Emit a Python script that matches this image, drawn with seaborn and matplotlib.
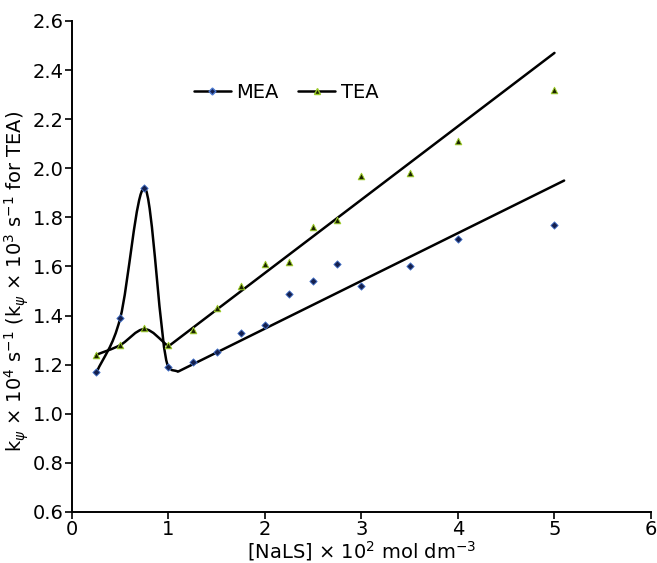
import matplotlib
matplotlib.use('Agg')
import matplotlib.pyplot as plt
import seaborn as sns
import pandas as pd
from matplotlib.path import Path
from matplotlib.patches import PathPatch
from matplotlib.lines import Line2D

sns.set_style('ticks')
plt.rcParams['font.family'] = ['DejaVu Sans']
plt.rcParams['mathtext.fontset'] = 'dejavusans'
plt.rcParams['text.color'] = 'black'
plt.rcParams['axes.labelcolor'] = 'black'

# measured points
nals = [0.25, 0.5, 0.75, 1.0, 1.25, 1.5, 1.75, 2.0, 2.25, 2.5, 2.75, 3.0, 3.5, 4.0, 5.0]
mea = [1.17, 1.39, 1.92, 1.19, 1.21, 1.25, 1.33, 1.36, 1.49, 1.54, 1.61, 1.52, 1.60, 1.71, 1.77]
tea = [1.24, 1.28, 1.35, 1.28, 1.34, 1.43, 1.52, 1.61, 1.62, 1.76, 1.79, 1.97, 1.98, 2.11, 2.32]

# smoothed part of the trend (knots) + straight part
mea_curve_x = [0.25, 0.5, 0.75, 1.0, 1.1]
mea_curve_y = [1.165, 1.39, 1.92, 1.19, 1.172]
mea_line_x = [1.1, 5.1]
mea_line_y = [1.172, 1.95]
tea_curve_x = [0.25, 0.5, 0.75, 1.0]
tea_curve_y = [1.24, 1.28, 1.345, 1.275]
tea_line_x = [1.0, 5.0]
tea_line_y = [1.275, 2.47]


def smooth_path(xs, ys):
    # cubic hermite through the knots (limited slopes), as bezier segments
    n = len(xs)
    h = [xs[i + 1] - xs[i] for i in range(n - 1)]
    d = [(ys[i + 1] - ys[i]) / h[i] for i in range(n - 1)]
    m = [d[0]]
    for i in range(1, n - 1):
        if d[i - 1] * d[i] <= 0:
            m.append(0.0)
        else:
            c = (ys[i + 1] - ys[i - 1]) / (xs[i + 1] - xs[i - 1])
            lim = 3 * min(abs(d[i - 1]), abs(d[i]))
            m.append(max(-lim, min(lim, c)))
    m.append(d[-1])
    verts = [(xs[0], ys[0])]
    codes = [Path.MOVETO]
    for i in range(n - 1):
        verts += [(xs[i] + h[i] / 3, ys[i] + m[i] * h[i] / 3),
                  (xs[i + 1] - h[i] / 3, ys[i + 1] - m[i + 1] * h[i] / 3),
                  (xs[i + 1], ys[i + 1])]
        codes += [Path.CURVE4] * 3
    return Path(verts, codes)


df = pd.DataFrame({'NaLS': nals, 'MEA': mea, 'TEA': tea})

fig = plt.figure(figsize=(6.57, 5.63), dpi=100)
ax = fig.add_axes([0.1096, 0.0906, 0.8812, 0.8721])

for cx, cy in [(mea_curve_x, mea_curve_y), (tea_curve_x, tea_curve_y)]:
    ax.add_patch(PathPatch(smooth_path(cx, cy), facecolor='none',
                           edgecolor='black', lw=1.8, zorder=2))
for lx, ly in [(mea_line_x, mea_line_y), (tea_line_x, tea_line_y)]:
    sns.lineplot(x=lx, y=ly, ax=ax, color='black', lw=1.8, zorder=2)

mea_style = dict(marker='D', color='#14204f', edgecolor='#4a78d0', s=14, linewidth=0.6)
tea_style = dict(marker='^', color='#1c2400', edgecolor='#9ccc28', s=22, linewidth=0.7)
sns.scatterplot(data=df, x='NaLS', y='MEA', ax=ax, zorder=3, **mea_style)
sns.scatterplot(data=df, x='NaLS', y='TEA', ax=ax, zorder=3, **tea_style)

ax.set_xlim(0, 6)
ax.set_ylim(0.6, 2.6)
ax.set_xticks(range(0, 7))
ax.set_yticks([0.6 + 0.2 * i for i in range(11)])
ax.set_yticklabels([f'{0.6 + 0.2 * i:.1f}' for i in range(11)])
ax.tick_params(labelsize=14, length=5, width=1.2, direction='out', colors='black', pad=1)
for s in ['left', 'bottom']:
    ax.spines[s].set_linewidth(1.4)
    ax.spines[s].set_color('black')
sns.despine(ax=ax)

ax.set_xlabel('[NaLS] × 10$^{2}$ mol dm$^{-3}$', fontsize=14, labelpad=0)
ax.set_ylabel('k$_{ψ}$ × 10$^{4}$ s$^{-1}$ (k$_{ψ}$ × 10$^{3}$ s$^{-1}$ for TEA)',
              fontsize=14)
ax.yaxis.set_label_coords(-0.07, 0.47)

handles = [
    Line2D([], [], color='black', lw=1.8, marker='D', markersize=3.5,
           markerfacecolor='#14204f', markeredgecolor='#4a78d0'),
    Line2D([], [], color='black', lw=1.8, marker='^', markersize=4.5,
           markerfacecolor='#1c2400', markeredgecolor='#9ccc28'),
]
ax.legend(handles, ['MEA', 'TEA'], ncol=2, frameon=False, fontsize=14,
          loc='center', bbox_to_anchor=(0.37, 0.855), handlelength=1.9,
          handletextpad=0.3, columnspacing=1.0)

plt.savefig('out.png', dpi=100)
plt.close()
